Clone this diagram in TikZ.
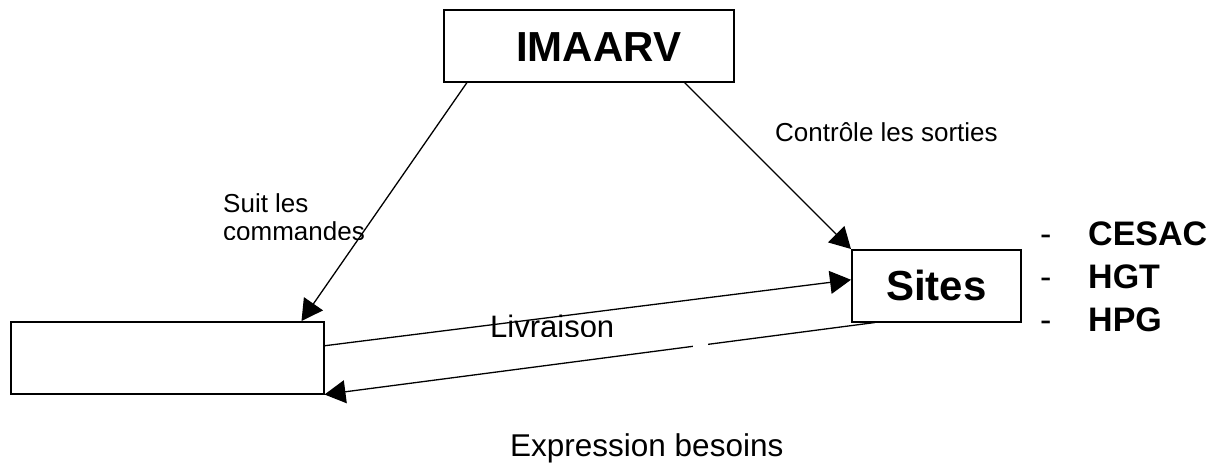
\documentclass[tikz,border=0pt]{standalone}
\usepackage{fontspec}
\setmainfont{Liberation Sans}
\usetikzlibrary{arrows.meta}
\tikzset{
  box/.style={draw, line width=1.5pt, rectangle, inner sep=0pt, anchor=north west},
  conn/.style={line width=1.3pt, -{Triangle[length=21pt,width=23pt]}},
  lab/.style={anchor=base west, inner sep=0pt},
}
\begin{document}
\begin{tikzpicture}[x=1pt,y=-1pt]
\useasboundingbox (0,0) rectangle (1227,464);
% boxes
\node[box, minimum width=290pt, minimum height=72pt] (imaarv) at (443,9) {};
\node[box, minimum width=169pt, minimum height=72pt] (sites) at (851,249) {};
\node[box, minimum width=313pt, minimum height=72pt] (left) at (10,321) {};
% box texts
\node[lab, font=\fontsize{42}{46}\bfseries\selectfont] (timaarv) at (516,61) {IMAARV};
\node[lab, font=\fontsize{42}{46}\bfseries\selectfont] (tsites) at (886,300) {Sites};
% connectors
\draw[conn] ([xshift=24pt]imaarv.south west) -- ([xshift=-23pt]left.north east);
\draw[conn] ([xshift=-50pt]imaarv.south east) -- (sites.north west);
\draw[conn] ([yshift=12pt]left.east) -- ([yshift=6pt]sites.west);
\draw[conn] ([xshift=24pt]sites.south west) -- (left.south east);
\fill[white] (693,338) rectangle (708,356);
% labels
\node[lab, font=\fontsize{26}{30}\selectfont] (tcontrole) at (775,141) {Contrôle les sorties};
\begin{scope}
\clip (200,180) rectangle (400,239);
\node[lab, font=\fontsize{26}{30}\selectfont] (tsuit) at (223,212) {Suit les};
\node[lab, font=\fontsize{26}{30}\selectfont] (tcommandes) at (223,240) {commandes};
\end{scope}
\begin{scope}
\clip (470,295) rectangle (640,336);
\node[lab, font=\fontsize{31}{36}\selectfont] (tlivraison) at (490,337) {Livraison};
\end{scope}
\node[lab, font=\fontsize{31.5}{36}\selectfont] (texpr) at (510,456) {Expression besoins};
% site list
\node[lab, font=\fontsize{34}{40}\selectfont] (d1) at (1040,245) {-};
\node[lab, font=\fontsize{34}{40}\selectfont] (d2) at (1040,288) {-};
\node[lab, font=\fontsize{34}{40}\selectfont] (d3) at (1040,331) {-};
\node[lab, font=\fontsize{34}{40}\bfseries\selectfont] (s1) at (1088,245) {CESAC};
\node[lab, font=\fontsize{34}{40}\bfseries\selectfont] (s2) at (1088,288) {HGT};
\node[lab, font=\fontsize{34}{40}\bfseries\selectfont] (s3) at (1088,331) {HPG};
\end{tikzpicture}
\end{document}
